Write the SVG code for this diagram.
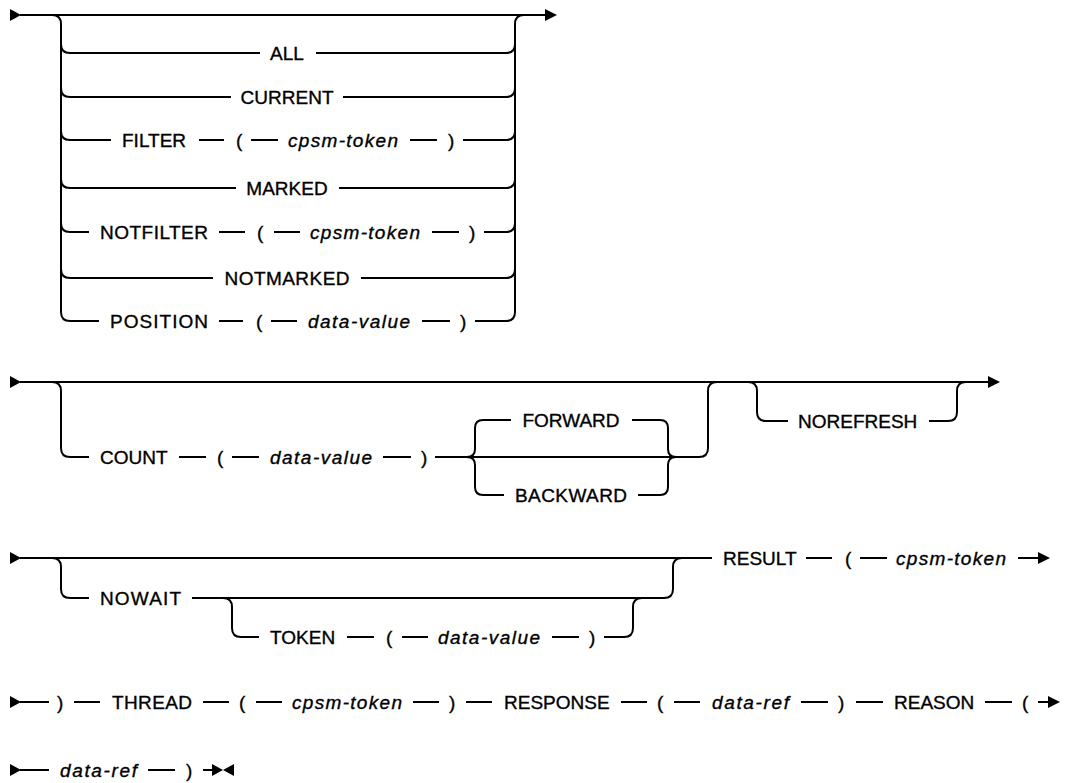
<svg xmlns="http://www.w3.org/2000/svg" width="1067" height="783" viewBox="0 0 1067 783">
<style>
.t{font-family:"Liberation Sans",Arial,sans-serif;font-size:19px;fill:#000;stroke:#000;stroke-width:0.35}
.i{font-style:italic}
.c path,.c line{stroke:#000;stroke-width:2;fill:none}
.a{fill:#000;stroke:none}
</style>
<rect width="1067" height="783" fill="#fff"/>
<g class="c" id="connectors">
<!-- Row 1 -->
<polygon class="a" points="10,9 10,21 21,15"/>
<path d="M20 15H546"/>
<polygon class="a" points="545,9 545,21 557,15"/>
<path d="M52 15Q61 15 61 24V312Q61 321 70 321"/>
<path d="M515 312Q515 321 506 321M515 24Q515 15 524 15M515 24V312"/>
<path d="M61 44Q61 53 70 53H260M316 53H506Q515 53 515 44"/>
<path d="M61 88Q61 97 70 97H231M343 97H506Q515 97 515 88"/>
<path d="M61 131Q61 140 70 140H111M199 140H224M251 140H278M410 140H437M463 140H506Q515 140 515 131"/>
<path d="M61 179Q61 188 70 188H236M339 188H506Q515 188 515 179"/>
<path d="M61 223Q61 232 70 232H89M219 232H245M274 232H300M432 232H459M484 232H506Q515 232 515 223"/>
<path d="M61 269Q61 278 70 278H213M361 278H506Q515 278 515 269"/>
<path d="M70 321H99M219 321H243M271 321H297M422 321H450M475 321H506"/>
<!-- Row 2 -->
<polygon class="a" points="10,376 10,388 21,382"/>
<path d="M20 382H989"/>
<polygon class="a" points="988,376 988,388 1000,382"/>
<path d="M52 382Q61 382 61 391V448Q61 457 70 457H89"/>
<path d="M179 457H206M232 457H259M383 457H411"/>
<path d="M435 457H699Q708 457 708 448V391Q708 382 717 382"/>
<path d="M467 457Q475 457 475 449V428Q475 420 483 420H511"/>
<path d="M467 457Q475 457 475 465V487Q475 495 483 495H504"/>
<path d="M632 420H660Q668 420 668 428V449Q668 457 676 457"/>
<path d="M638 495H660Q668 495 668 487V465Q668 457 676 457"/>
<path d="M748 382Q757 382 757 391V412Q757 421 766 421H788"/>
<path d="M929 421H948Q957 421 957 412V391Q957 382 966 382"/>
<!-- Row 3 -->
<polygon class="a" points="10,552 10,564 21,558"/>
<path d="M20 558H712"/>
<path d="M52 558Q61 558 61 567V589Q61 598 70 598H89"/>
<path d="M192 598H664Q673 598 673 589V567Q673 558 682 558"/>
<path d="M223 598Q232 598 232 607V628Q232 637 241 637H259"/>
<path d="M347 637H374M402 637H428M552 637H579"/>
<path d="M604 637H624Q633 637 633 628V607Q633 598 642 598"/>
<path d="M806 558H832M860 558H887M1018 558H1040"/>
<polygon class="a" points="1038,552 1038,564 1050,558"/>
<!-- Row 4 -->
<polygon class="a" points="10,696 10,708 21,702"/>
<path d="M20 702H49M74 702H100M203 702H229M256 702H282M413 702H439M466 702H492M621 702H647M674 702H700M801 702H828M856 702H883M985 702H1012M1038 702H1050"/>
<polygon class="a" points="1048,696 1048,708 1060,702"/>
<!-- Row 5 -->
<polygon class="a" points="10,764 10,776 21,770"/>
<path d="M20 770H49M148 770H175M203 770H214"/>
<polygon class="a" points="212,764 212,776 223,770"/>
<polygon class="a" points="234,764 234,776 223,770"/>
</g>
<g id="n-all"><text class="t" x="287" y="60" text-anchor="middle">ALL</text></g>
<g id="n-current"><text class="t" x="287" y="104" text-anchor="middle" textLength="93">CURRENT</text></g>
<g id="n-filter"><text class="t" x="122" y="147">FILTER</text><text class="t" x="236" y="147">(</text><text class="t i" x="288" y="147" textLength="110">cpsm-token</text><text class="t" x="448" y="147">)</text></g>
<g id="n-marked"><text class="t" x="287" y="195" text-anchor="middle">MARKED</text></g>
<g id="n-notfilter"><text class="t" x="100" y="239" textLength="108">NOTFILTER</text><text class="t" x="257" y="239">(</text><text class="t i" x="310" y="239" textLength="110">cpsm-token</text><text class="t" x="469" y="239">)</text></g>
<g id="n-notmarked"><text class="t" x="287" y="285" text-anchor="middle" textLength="125">NOTMARKED</text></g>
<g id="n-position"><text class="t" x="110" y="328" textLength="98">POSITION</text><text class="t" x="256" y="328">(</text><text class="t i" x="308" y="328" textLength="102">data-value</text><text class="t" x="460" y="328">)</text></g>
<g id="n-count"><text class="t" x="100" y="464">COUNT</text><text class="t" x="217" y="464">(</text><text class="t i" x="270" y="464" textLength="102">data-value</text><text class="t" x="421" y="464">)</text></g>
<g id="n-forward"><text class="t" x="571" y="427" text-anchor="middle">FORWARD</text></g>
<g id="n-backward"><text class="t" x="571" y="502" text-anchor="middle" textLength="112">BACKWARD</text></g>
<g id="n-norefresh"><text class="t" x="798" y="428">NOREFRESH</text></g>
<g id="n-nowait"><text class="t" x="100" y="605" textLength="81">NOWAIT</text></g>
<g id="n-token"><text class="t" x="270" y="644">TOKEN</text><text class="t" x="386" y="644">(</text><text class="t i" x="438" y="644" textLength="102">data-value</text><text class="t" x="589" y="644">)</text></g>
<g id="n-result"><text class="t" x="723" y="565">RESULT</text><text class="t" x="845" y="565">(</text><text class="t i" x="896" y="565" textLength="110">cpsm-token</text></g>
<g id="n-thread"><text class="t" x="57" y="709">)</text><text class="t" x="112" y="709" textLength="80">THREAD</text><text class="t" x="239" y="709">(</text><text class="t i" x="292" y="709" textLength="110">cpsm-token</text><text class="t" x="449" y="709">)</text></g>
<g id="n-response"><text class="t" x="504" y="709">RESPONSE</text><text class="t" x="657" y="709">(</text><text class="t i" x="712" y="709" textLength="77">data-ref</text><text class="t" x="838" y="709">)</text></g>
<g id="n-reason"><text class="t" x="894" y="709">REASON</text><text class="t" x="1022" y="709">(</text></g>
<g id="n-end"><text class="t i" x="60" y="777" textLength="77">data-ref</text><text class="t" x="186" y="777">)</text></g>
</svg>
